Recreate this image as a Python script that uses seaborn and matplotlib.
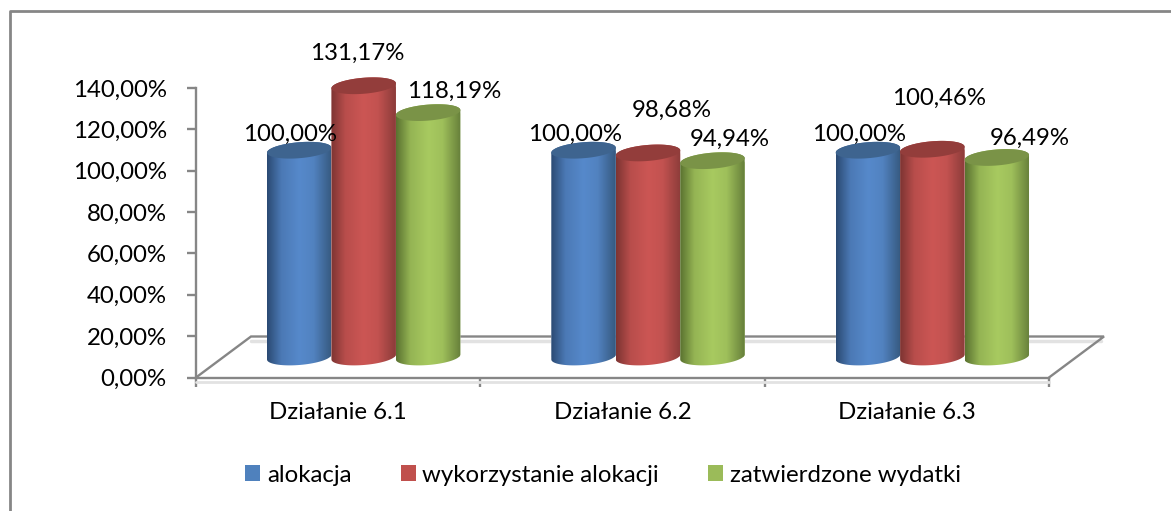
import numpy as np
import pandas as pd
import matplotlib
matplotlib.use('Agg')
import matplotlib.pyplot as plt
import seaborn as sns
from matplotlib.colors import LinearSegmentedColormap, to_rgb
from matplotlib.lines import Line2D
from matplotlib.patches import Patch, Polygon
from matplotlib.path import Path
from matplotlib.transforms import IdentityTransform

categories = ['Działanie 6.1', 'Działanie 6.2', 'Działanie 6.3']
series = ['alokacja', 'wykorzystanie alokacji', 'zatwierdzone wydatki']
alokacja = [100.00, 100.00, 100.00]
wykorzystanie = [131.17, 98.68, 100.46]
zatwierdzone = [118.19, 94.94, 96.49]
y_ticks = [0, 20, 40, 60, 80, 100, 120, 140]
y_tick_labels = ['0,00%', '20,00%', '40,00%', '60,00%', '80,00%', '100,00%', '120,00%', '140,00%']

W, H = 1171, 511
GREY = '#868686'
FONT = 17.3
# legend colour, then cylinder shading: left edge, middle, right edge, lid
colors = ['#4f81bd', '#c0504d', '#9bbb59']
shades = [('#2b4a73', '#5689cb', '#36597f', '#3e648f'),
          ('#7d3432', '#cc5654', '#8c3c3a', '#933d3b'),
          ('#5a7230', '#a8ca60', '#667f3a', '#7a9347')]
# pixel offset of each value label from the top of its cylinder, per series
label_offsets = [[(-9, 16), (-9, 16), (-9, 16)],
                 [(-6, 32), (24, 43), (7, 51)],
                 [(26, 21), (17, 21), (33, 19)]]

sns.set_theme(style='white')
plt.rcParams['font.family'] = ['Lato', 'DejaVu Sans']


def ellipse_pts(cx, cy, a, b, t):
    # slightly tilted ellipse, right side higher, in pixels
    return np.column_stack([cx + a * np.cos(t), cy + b * np.sin(t) + 2.5 * np.cos(t)])


def shade_cmap(name, left, mid, right):
    l, m, r = [np.array(to_rgb(c)) for c in (left, mid, right)]
    return LinearSegmentedColormap.from_list(name, [
        (0, l), (0.22, (l + 3 * m) / 4), (0.5, m), (0.72, (r + 6 * m) / 7), (1, r)])


def draw_cylinders(ax, fig):
    fig.canvas.draw()
    to_px = ax.transData.transform
    for s, container in enumerate(ax.containers):
        cmap = shade_cmap(series[s], *shades[s][:3])
        for i, bar in enumerate(container):
            x0, x1 = bar.get_x(), bar.get_x() + bar.get_width()
            h = bar.get_height()
            (px0, py0), (px1, py1) = to_px((x0, 0)), to_px((x1, h))
            cx, a = (px0 + px1) / 2, (px1 - px0) / 2
            bottom = ellipse_pts(cx, py0, a, 8, np.linspace(np.pi, 2 * np.pi, 40))
            top = ellipse_pts(cx, py1, a, 8, np.linspace(0, np.pi, 40))
            body = Path(np.vstack([bottom, top, bottom[:1]]), closed=True)

            z = 3 + s * 3
            bar.set_zorder(z)
            bar.set_clip_path(body, IdentityTransform())
            im = ax.imshow(np.linspace(0, 1, 128)[None, :], cmap=cmap, aspect='auto',
                           extent=(x0, x1, -12, h + 12), zorder=z + 1)
            im.set_clip_box(fig.bbox)
            im.set_clip_path(body, IdentityTransform())

            lid = ellipse_pts(cx, py1, a, 8, np.linspace(0, 2 * np.pi, 80))
            ax.add_patch(Polygon(lid, closed=True, facecolor=shades[s][3], edgecolor='none',
                                 transform=IdentityTransform(), clip_on=False, zorder=z + 2))

            ax.annotate(f'{h:.2f}%'.replace('.', ','), xy=((x0 + x1) / 2, h),
                        xytext=label_offsets[s][i], textcoords='offset pixels',
                        ha='center', va='center', fontsize=FONT, color='black',
                        annotation_clip=False, zorder=20)


def draw_floor(ax, dx, dy):
    w, h = ax.bbox.width, ax.bbox.height
    fx, fy = dx / w, dy / h
    xs = [0, fx, 1 + fx, 1]
    ys = [0, fy, fy, 0]
    # pale band below the back and the front edge
    ax.plot([fx, 1 + fx - 0.004], [fy - 0.014, fy - 0.014], transform=ax.transAxes, color='#e2e2e2',
            lw=2.5, clip_on=False, zorder=1)
    ax.plot([0, 1], [-0.014, -0.014], transform=ax.transAxes, color='#e2e2e2', lw=2, clip_on=False, zorder=1)
    ax.plot(xs, ys, transform=ax.transAxes, color=GREY, lw=1.7, clip_on=False, zorder=2,
            solid_joinstyle='miter')


def main():
    df = pd.DataFrame({
        'kategoria': categories * 3,
        'seria': np.repeat(series, 3),
        'wartosc': alokacja + wykorzystanie + zatwierdzone,
    })

    fig = plt.figure(figsize=(W / 100, H / 100), dpi=100, facecolor='white')
    left, right, top, base = 196, 1049, 88, 377.5
    rect = [left / W, 1 - base / H, (right - left) / W, (base - top) / H]
    ax = fig.add_axes(rect)

    # cylinders stand on the 3D floor, so they get their own shifted axes
    shift_x, shift_y = 25.5, 20.5
    ax_bars = fig.add_axes([rect[0] + shift_x / W, rect[1] + shift_y / H, rect[2], rect[3]])
    ax_bars.patch.set_alpha(0)
    sns.barplot(data=df, x='kategoria', y='wartosc', hue='seria', palette=colors, width=0.68, gap=0,
                saturation=1, legend=False, ax=ax_bars)
    ax_bars.set_xlim(-0.5, 2.5)
    ax_bars.set_ylim(0, 140)
    ax_bars.axis('off')
    draw_cylinders(ax_bars, fig)
    ax_bars.set_xlim(-0.5, 2.5)
    ax_bars.set_ylim(0, 140)

    ax.set_xlim(-0.5, 2.5)
    ax.set_ylim(0, 140)
    ax.set_yticks(y_ticks, y_tick_labels)
    ax.set_xticks(range(3), categories)
    ax.set_xticks([-0.5, 0.5, 1.5, 2.5], minor=True)
    ax.tick_params(axis='x', which='major', length=0, pad=17.5, labelsize=FONT, labelcolor='black')
    ax.tick_params(axis='x', which='minor', length=6.5, width=1.7, color=GREY, bottom=True)
    ax.tick_params(axis='y', length=6.5, width=1.7, color=GREY, left=True, pad=14.5, labelsize=FONT, labelcolor='black')
    sns.despine(ax=ax, top=True, right=True)
    for side in ['left', 'bottom']:
        ax.spines[side].set_color(GREY)
        ax.spines[side].set_linewidth(1.7)
    draw_floor(ax, 55, 41)

    # chart frame, only left and top edges are visible
    fig.add_artist(Line2D([10 / W, 10 / W, 1], [0, 1 - 11 / H, 1 - 11 / H], color=GREY, lw=2))

    handles = [Patch(facecolor=c, edgecolor='none') for c in colors]
    fig.legend(handles, series, loc='center', bbox_to_anchor=(603 / W, 1 - 475 / H), ncol=3, frameon=False,
               fontsize=FONT, handlelength=0.62, handleheight=0.62, handletextpad=0.28, columnspacing=2.05,
               labelcolor='black')

    fig.savefig('out.png', dpi=100)


if __name__ == '__main__':
    main()
